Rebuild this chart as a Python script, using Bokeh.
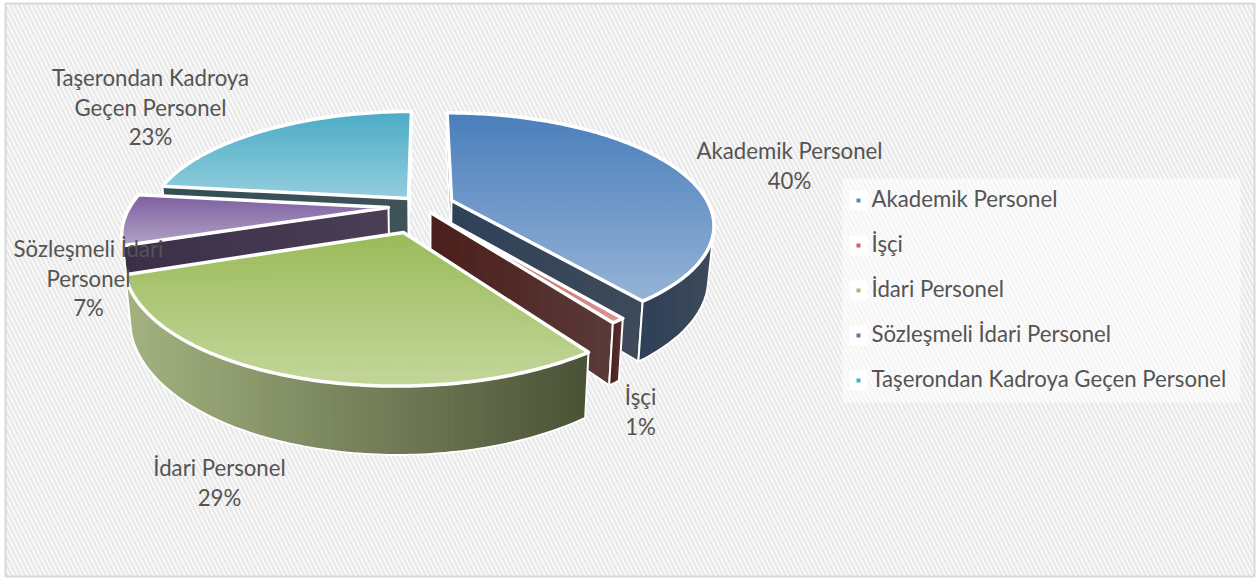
import math
from bokeh.plotting import figure
from bokeh.models import Range1d
from bokeh.core.properties import value
from bokeh.embed import file_html
from bokeh.resources import INLINE

# ---------- data ----------
names = ["Akademik Personel", "İşçi", "İdari Personel", "Sözleşmeli İdari Personel", "Taşerondan Kadroya Geçen Personel"]
shares = [39.6, 0.7, 29.4, 7.2, 23.1]
label_lines = [["Akademik Personel"], ["İşçi"], ["İdari Personel"], ["Sözleşmeli İdari", "Personel"], ["Taşerondan Kadroya", "Geçen Personel"]]

# ---------- style / layout ----------
top_back = ["#4a7ebb", "#c0504d", "#9bbb59", "#7c5f9f", "#4bacc6"]
top_front = ["#95b3d7", "#d99694", "#c3d69b", "#b3a2c7", "#93cddd"]
wall_left = ["#2f4159", "#4b1e1a", "#a3b380", "#3b2f48", "#324f55"]
wall_right = ["#3e4a5a", "#5a3a3a", "#4b5237", "#4a3f55", "#3f5257"]
marker_colors = ["#5b8bc4", "#c9605c", "#9fbf62", "#8064a2", "#4bacc6"]
apex_dx = [26, 5, -22, -37, -17]
apex_dy = [-5, 7, 27, 2, -7]
label_x = [789, 640, 219, 88, 150]
label_y = [150, 396, 467, 248, 77]
draw_order = [4, 0, 3, 1, 2]
TEXT = "#545454"
FONT = "Lato"
FS = "22.2px"
line_gap = 29.5
legend_x, legend_ys = 871, [198, 243, 288, 333, 378]

cx, cy, a, b, k = 425.0, 205.0, 258.0, 108.0, 0.21
depth, shrink = 51.0, 0.02


def proj(X, Y):
    d = 1 - k * Y
    return cx + a * X / d, cy + b * Y / d


def proj_low(X, Y):
    x, y = proj(X, Y)
    return cx + (x - cx) * (1 - shrink), y + depth / (1 - k * Y)


def unproj(dx, dy):
    Y = dy / (b + k * dy)
    return dx * (1 - k * Y) / a, Y


def clip(poly, axis, lo, hi):
    def half(pts, keep, edge):
        out = []
        for i, p0 in enumerate(pts):
            p1 = pts[(i + 1) % len(pts)]
            k0, k1 = keep(p0[axis]), keep(p1[axis])
            if k0:
                out.append(p0)
            if k0 != k1:
                t = (edge - p0[axis]) / (p1[axis] - p0[axis])
                out.append((p0[0] + t * (p1[0] - p0[0]), p0[1] + t * (p1[1] - p0[1])))
        return out
    r = half(poly, lambda c: c >= lo, lo)
    return half(r, lambda c: c <= hi, hi) if r else r


def mix(c0, c1, t):
    r0 = [int(c0[i:i + 2], 16) for i in (1, 3, 5)]
    r1 = [int(c1[i:i + 2], 16) for i in (1, 3, 5)]
    return "#%02x%02x%02x" % tuple(round(p + (q - p) * t) for p, q in zip(r0, r1))


def banded(poly, axis, c0, c1, n):
    vals = [q[axis] for q in poly]
    lo, hi = min(vals), max(vals)
    xs, ys, cs = [], [], []
    step = (hi - lo) / n
    for i in range(n):
        part = clip(poly, axis, lo + i * step, lo + (i + 1) * step)
        if len(part) >= 3:
            xs.append([q[0] for q in part])
            ys.append([q[1] for q in part])
            cs.append(mix(c0, c1, (i + .5) / n))
    if xs:
        p.patches(xs, ys, fill_color=cs, line_color=cs, line_width=1)


def outline(poly, w):
    p.patch([q[0] for q in poly], [q[1] for q in poly], fill_alpha=0, line_color="white", line_width=w, line_join="round")


p = figure(width=1258, height=579, x_range=Range1d(0, 1258), y_range=Range1d(579, 0),
           x_axis_type=None, y_axis_type=None, toolbar_location=None, output_backend="svg",
           min_border=0, outline_line_color=None, background_fill_color="white", border_fill_color="white")
p.grid.visible = False
p.styles = {"position": "absolute", "left": "0px", "top": "0px"}

# hatched chart area
p.quad(left=[5], right=[1254], top=[3], bottom=[576], fill_color="#fcfcfc",
       hatch_pattern="left_diagonal_line", hatch_color="#e9e9e9", hatch_scale=9, hatch_weight=2.5,
       line_color="#d9d9d9", line_width=2)

# 3-D slices
total = sum(shares)
edges = [0]
for s in shares:
    edges.append(edges[-1] + s / total * 2 * math.pi)

for i in draw_order:
    X0, Y0 = unproj(apex_dx[i], apex_dy[i])
    n = max(6, int((edges[i + 1] - edges[i]) * 60))
    thetas = [edges[i] + (edges[i + 1] - edges[i]) * j / n for j in range(n + 1)]
    rim = [(X0 + math.sin(t), Y0 - math.cos(t)) for t in thetas]
    rim_top = [proj(*q) for q in rim]
    rim_low = [proj_low(*q) for q in rim]
    apex_top, apex_low = proj(X0, Y0), proj_low(X0, Y0)
    # radial faces, only those turned to the viewer
    for sign, top_pt, low_pt in ((-1, rim_top[0], rim_low[0]), (1, rim_top[-1], rim_low[-1])):
        e1 = (top_pt[0] - apex_top[0], top_pt[1] - apex_top[1])
        e2 = (low_pt[0] - top_pt[0], low_pt[1] - top_pt[1])
        if sign * (e1[0] * e2[1] - e1[1] * e2[0]) > 0:
            face = [apex_top, top_pt, low_pt, apex_low]
            banded(face, 0, wall_left[i], wall_right[i], 20)
            outline(face, 2)
    # outer wall, front-facing part of the rim
    vis = [j for j in range(n) if
           (rim_top[j + 1][0] - rim_top[j][0]) * (rim_low[j][1] - rim_top[j][1]) -
           (rim_top[j + 1][1] - rim_top[j][1]) * (rim_low[j][0] - rim_top[j][0]) < 0]
    if vis:
        j0, j1 = vis[0], vis[-1] + 1
        wall = rim_top[j0:j1 + 1] + rim_low[j0:j1 + 1][::-1]
        banded(wall, 0, wall_left[i], wall_right[i], 90)
        outline(wall, 2)
    # top face
    top = [apex_top] + rim_top
    banded(top, 1, top_back[i], top_front[i], 45)
    outline(top, 3.5)

# data labels
tx, ty, tt = [], [], []
for i in range(len(names)):
    lines = label_lines[i] + [f"{shares[i]:.0f}%"]
    for j, line in enumerate(lines):
        tx.append(label_x[i]); ty.append(label_y[i] + j * line_gap); tt.append(line)
p.text(tx, ty, text=tt, text_font=value(FONT), text_font_size=value(FS), text_color=TEXT,
       text_align="center", text_baseline="middle")

# legend
p.quad(left=[842], right=[1240], top=[178], bottom=[402], fill_color="white", fill_alpha=0.55, line_color=None)
p.quad(left=[legend_x - 22] * 5, right=[legend_x - 4] * 5, top=[y - 8 for y in legend_ys], bottom=[y + 12 for y in legend_ys],
       fill_color="white", line_color=None)
p.scatter([legend_x - 13] * 5, [y + 2 for y in legend_ys], marker="square", size=4, fill_color=marker_colors, line_color=None)
p.text([legend_x] * 5, legend_ys, text=names, text_font=value(FONT), text_font_size=value(FS), text_color=TEXT,
       text_align="left", text_baseline="middle")

open("out.html", "w").write(file_html(p, INLINE))
